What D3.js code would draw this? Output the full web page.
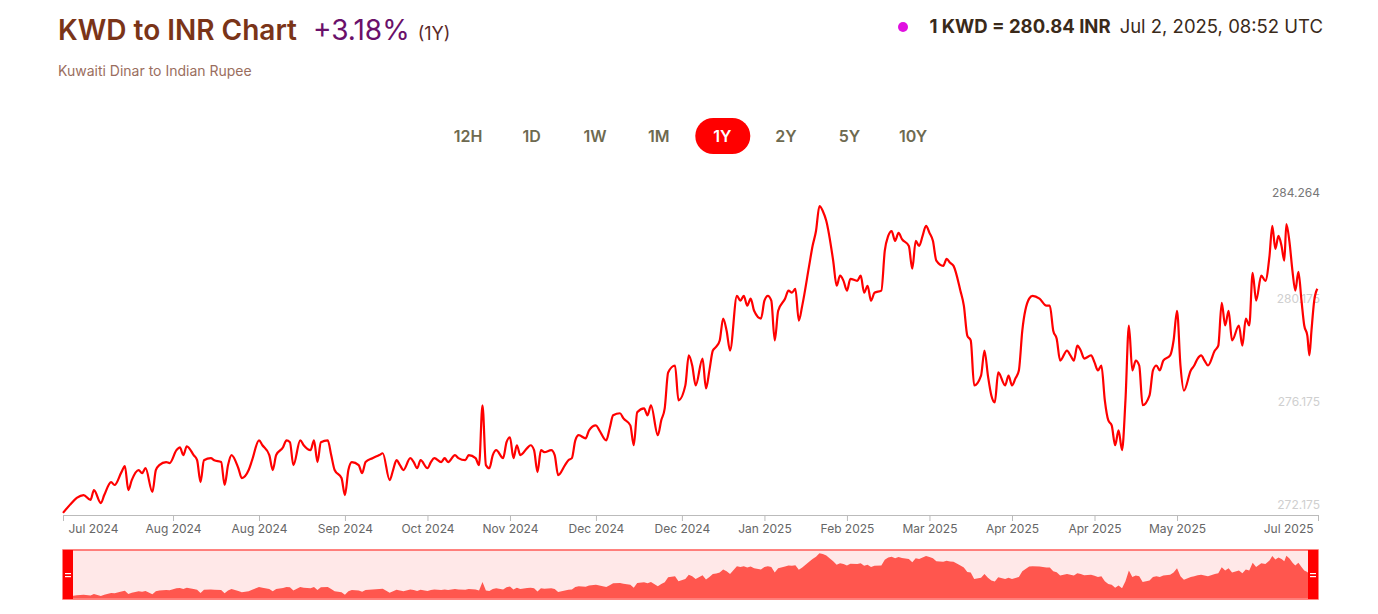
<!DOCTYPE html>
<html>
<head>
<meta charset="utf-8">
<script src="https://cdn.jsdelivr.net/npm/d3@7"></script>
<style>
  body { margin: 0; background: #fff; font-family: Inter, "Noto Sans", sans-serif; }
</style>
</head>
<body>
<div id="chart"></div>
<script>
var svgWidth = 1378;
var svgHeight = 614;

// Data: days since Jul 2, 2024 and KWD->INR rate
var startDate = new Date(2024, 6, 2);
var days = [0,2,4,6,8,9,11,12,14,15,17,18,19,20,22,23,24,26,27,28,30,31,33,34,35,36,38,39,40,41,43,44,46,47,48,49,51,52,54,55,57,58,60,61,62,64,65,66,67,69,70,72,73,74,75,77,78,79,81,82,83,84,86,87,88,90,92,93,95,96,97,98,99,101,102,103,104,106,107,108,110,111,112,114,115,117,118,120,121,122,123,124,125,126,128,129,130,131,132,133,135,136,137,138,139,140,142,143,144,146,147,148,149,150,152,153,155,156,158,159,160,162,163,165,166,167,169,170,171,173,174,175,176,178,179,181,182,183,184,186,187,188,189,190,191,192,193,194,196,197,198,199,200,201,203,204,205,206,207,208,210,211,212,213,214,215,217,218,219,220,221,222,224,225,226,227,228,229,231,232,233,234,235,236,238,239,240,241,242,243,244,246,247,248,249,250,251,252,253,254,256,257,258,259,261,262,263,264,265,267,268,269,270,271,272,274,275,276,277,278,279,281,282,284,286,287,288,289,290,292,293,294,295,296,297,299,300,301,302,303,304,305,306,307,308,309,310,311,312,313,314,316,317,318,319,320,322,323,324,325,326,328,329,330,331,332,333,335,336,337,338,339,340,342,343,344,345,346,347,348.5,349.7,350.9,351.7,352.6,353.5,354.4,355.2,355.8,356.7,357.6,358.4,359.3,360.2,361.0,361.9,362.5,363.1,363.9,364.8];
var rates = [271.87,272.18,272.45,272.56,272.37,272.75,272.25,272.56,273.06,272.95,273.45,273.68,272.75,273.14,273.53,273.41,273.60,272.68,273.53,273.72,273.84,273.80,274.30,274.41,274.11,274.45,274.11,273.91,273.06,273.91,273.99,273.91,273.84,272.95,273.72,274.11,273.60,273.22,273.53,273.91,274.68,274.49,274.11,273.53,274.11,274.41,274.68,274.61,273.72,274.68,274.49,274.30,274.68,273.84,274.61,274.68,274.11,273.53,273.22,272.56,273.53,273.84,273.72,273.41,273.84,273.99,274.11,274.18,273.14,273.53,273.91,273.72,273.53,273.99,273.84,273.60,273.91,273.60,273.84,273.99,273.84,273.99,273.84,274.11,273.99,273.91,274.11,273.99,273.72,276.04,273.72,273.60,274.11,274.30,273.99,274.61,274.80,273.99,274.49,274.11,274.38,274.49,274.30,273.45,274.30,274.22,274.30,274.11,273.33,273.72,273.91,273.99,274.68,274.88,274.76,275.07,275.26,275.07,274.68,275.15,275.65,275.73,275.53,275.26,274.49,275.77,275.92,275.65,276.04,274.88,275.46,275.92,277.31,277.58,276.23,276.81,277.97,277.58,276.81,277.85,276.69,277.39,278.16,278.31,278.55,279.40,278.93,278.16,280.28,280.09,280.28,279.90,280.17,279.70,279.40,280.09,280.28,280.09,278.55,279.70,280.17,280.48,280.40,280.55,279.32,279.90,281.44,282.21,282.79,283.76,283.56,283.18,281.64,280.67,281.06,280.86,280.48,280.94,280.86,281.06,280.40,280.67,280.09,280.40,280.48,282.02,282.60,282.79,282.41,282.72,282.48,282.21,281.33,282.41,282.21,282.60,282.99,282.72,282.41,281.64,281.44,281.71,281.56,281.44,280.48,279.90,278.74,278.55,276.81,277.19,278.16,277.19,276.42,276.15,277.31,276.81,277.19,276.81,277.08,277.39,278.93,280.17,280.28,280.17,279.90,279.90,278.93,278.62,277.77,278.16,277.97,277.77,278.35,278.16,277.85,277.97,277.70,277.39,277.58,276.23,275.46,275.26,274.49,275.07,274.30,276.23,279.13,277.39,277.77,277.58,276.04,276.42,277.39,277.58,277.39,277.77,277.97,278.55,279.70,277.58,276.61,277.39,277.58,277.85,277.97,277.77,277.58,278.16,278.35,280.01,279.13,279.70,278.55,279.13,278.35,279.40,279.13,281.17,280.09,281.06,280.86,281.83,282.99,282.10,282.60,282.21,281.64,283.06,282.37,281.21,280.48,281.21,280.09,279.13,278.74,277.97,278.93,280.09,280.55];

var tickDays = [0,32,57,82,106,130,155,180,204,228,252,276,300,324,365];
var tickLabels = ["Jul 2024","Aug 2024","Aug 2024","Sep 2024","Oct 2024","Nov 2024","Dec 2024","Dec 2024","Jan 2025","Feb 2025","Mar 2025","Apr 2025","Apr 2025","May 2025","Jul 2025"];
var yTicks = [272.175, 276.175, 280.175, 284.264];
var ranges = ["12H","1D","1W","1M","1Y","2Y","5Y","10Y"];

var data = days.map((d, i) => ({ date: new Date(startDate.getTime() + d * 864e5), value: rates[i] }));

var svg = d3.select("#chart").append("svg")
  .attr("width", svgWidth)
  .attr("height", svgHeight);

// Header
var title = svg.append("text").attr("x", 58).attr("y", 40)
  .style("font-size", "28px");
title.append("tspan").attr("font-weight", "600").attr("fill", "#7a3418").text("KWD to INR Chart");
title.append("tspan").attr("dx", 16).attr("fill", "#6a106a").text("+3.18%");
title.append("tspan").attr("dx", 8).attr("fill", "#5a2a2a").style("font-size", "18px").text("(1Y)");

svg.append("text").attr("x", 58).attr("y", 76).attr("fill", "#9a6e5e")
  .style("font-size", "14px").text("Kuwaiti Dinar to Indian Rupee");

svg.append("circle").attr("cx", 903).attr("cy", 27).attr("r", 5).attr("fill", "#e010e0");
var quote = svg.append("text").attr("x", 1323).attr("y", 33).attr("text-anchor", "end")
  .style("font-size", "18.5px").attr("fill", "#3a2a1a");
quote.append("tspan").attr("font-weight", "700").text("1 KWD = 280.84 INR");
quote.append("tspan").attr("dx", 9).text("Jul 2, 2025, 08:52 UTC");

// Range buttons
var btnX = d3.scalePoint().domain(ranges).range([468, 913]);
var btn = svg.append("g").selectAll("g").data(ranges).enter().append("g")
  .attr("transform", d => `translate(${btnX(d)},136)`);
btn.filter(d => d === "1Y").append("rect")
  .attr("x", -27).attr("y", -18).attr("width", 55).attr("height", 36).attr("rx", 18)
  .attr("fill", "#ff0000");
btn.append("text").attr("text-anchor", "middle").attr("dy", "0.35em")
  .style("font-size", "16px").attr("font-weight", "600")
  .attr("fill", d => d === "1Y" ? "#fff" : "#6e6a50")
  .text(d => d);

// Scales
var x = d3.scaleTime()
  .domain([startDate, d3.timeDay.offset(startDate, 365)])
  .range([63, 1318]);
var y = d3.scaleLinear()
  .domain([272.175, 284.264])
  .range([505, 193]);

// Y labels (drawn under the line)
svg.append("g").selectAll("text").data(yTicks).enter().append("text")
  .attr("x", 1320).attr("y", d => y(d)).attr("dy", "0.35em")
  .attr("text-anchor", "end").style("font-size", "12px")
  .attr("fill", (d, i) => i === 3 ? "#777" : "#cfcfcf")
  .text(d => d.toFixed(3));

// X axis
var tickDates = tickDays.map(d => d3.timeDay.offset(startDate, d));
var xAxis = d3.axisBottom(x).tickValues(tickDates).tickSize(6).tickSizeOuter(0)
  .tickFormat((d, i) => tickLabels[i]);
var gx = svg.append("g").attr("transform", "translate(0,515)").call(xAxis);
gx.select(".domain").attr("stroke", "#bbb");
gx.selectAll(".tick line").attr("stroke", "#bbb");
gx.selectAll(".tick text").attr("fill", "#666").style("font-size", "12px")
  .style("font-family", "Inter, sans-serif").attr("y", 9);
gx.selectAll(".tick text").filter((d, i) => i === 0).attr("text-anchor", "start").attr("dx", 5);
gx.selectAll(".tick text").filter((d, i) => i === tickDates.length - 1).attr("text-anchor", "end").attr("dx", -5);

// Line
svg.append("path").datum(data)
  .attr("fill", "none").attr("stroke", "#ff0000").attr("stroke-width", 2.2)
  .attr("stroke-linejoin", "round")
  .attr("d", d3.line().x(d => x(d.date)).y(d => y(d.value)).curve(d3.curveMonotoneX));

// Navigator
var nav = svg.append("g");
nav.append("rect").attr("x", 63).attr("y", 550).attr("width", 1255).attr("height", 49)
  .attr("fill", "#ffe8e8").attr("stroke", "#ff5a55").attr("stroke-width", 1.5);
var yNav = d3.scaleLinear().domain([271.7, 284.1]).range([598, 552]);
nav.append("path").datum(data).attr("fill", "#ff564e")
  .attr("d", d3.area().x(d => x(d.date)).y0(598).y1(d => yNav(d.value)));
[63, 1308].forEach(function (hx) {
  nav.append("rect").attr("x", hx).attr("y", 550).attr("width", 10).attr("height", 49).attr("fill", "#ff0000");
  nav.append("rect").attr("x", hx + 2).attr("y", 573).attr("width", 6).attr("height", 1.2).attr("fill", "#fff");
  nav.append("rect").attr("x", hx + 2).attr("y", 576).attr("width", 6).attr("height", 1.2).attr("fill", "#fff");
});
</script>
</body>
</html>
